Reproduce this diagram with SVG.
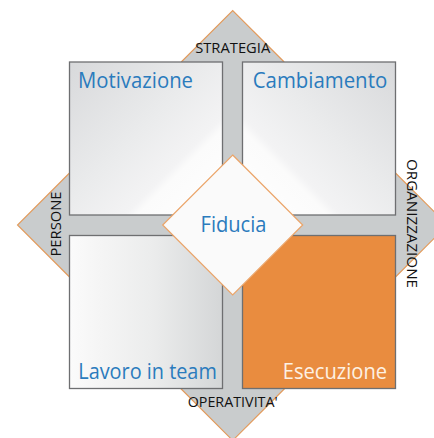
<svg xmlns="http://www.w3.org/2000/svg" width="434" height="438" viewBox="0 0 434 438">
  <style>
    .box { stroke: #6E6F71; stroke-width: 1.3; }
    .edge { fill: none; stroke: #E39A5A; stroke-width: 1.1; stroke-linejoin: miter; }
    .big { font-family: "Open Sans", "Liberation Sans", sans-serif; font-size: 21.5px; fill: #2A7BBD; }
    .axis { font-family: "Open Sans", "Liberation Sans", sans-serif; font-size: 14.5px; fill: #111111; }
  </style>
  <defs>
    <linearGradient id="gTL" x1="0" y1="0" x2="1" y2="1">
      <stop offset="0" stop-color="#D8D9DB"/>
      <stop offset="0.45" stop-color="#EAEBEC"/>
      <stop offset="0.68" stop-color="#F3F3F4"/>
      <stop offset="0.72" stop-color="#FBFBFB"/>
      <stop offset="1" stop-color="#FFFFFF"/>
    </linearGradient>
    <linearGradient id="gTR" x1="1" y1="0" x2="0" y2="1">
      <stop offset="0" stop-color="#D8D9DB"/>
      <stop offset="0.45" stop-color="#EAEBEC"/>
      <stop offset="0.68" stop-color="#F3F3F4"/>
      <stop offset="0.72" stop-color="#FBFBFB"/>
      <stop offset="1" stop-color="#FFFFFF"/>
    </linearGradient>
    <linearGradient id="gBL" x1="0" y1="0" x2="1" y2="0">
      <stop offset="0" stop-color="#FBFBFB"/>
      <stop offset="0.2" stop-color="#F5F5F5"/>
      <stop offset="0.55" stop-color="#EBECEC"/>
      <stop offset="1" stop-color="#D4D6D7"/>
    </linearGradient>
  </defs>

  <g id="frame">
    <polygon fill="#C9CCCD" points="232.7,10.5 284.2,62 395.5,62 395.5,173 447.5,225 395.5,277 395.5,388.5 284.7,388.5 232.7,440.5 180.7,388.5 69.5,388.5 69.5,277 17.5,225 69.5,173 69.5,62 181.2,62"/>
    <polyline class="edge" points="181.2,62 232.7,10.5 284.2,62"/>
    <polyline class="edge" points="395.5,173 447.5,225 395.5,277"/>
    <polyline class="edge" points="284.7,388.5 232.7,440.5 180.7,388.5"/>
    <polyline class="edge" points="69.5,173 17.5,225 69.5,277"/>
  </g>

  <g id="axis-strategia">
    <text class="axis" x="232.7" y="52.7" text-anchor="middle" textLength="75" lengthAdjust="spacingAndGlyphs">STRATEGIA</text>
  </g>
  <g id="axis-operativita">
    <text class="axis" x="232.7" y="406.5" text-anchor="middle" textLength="90" lengthAdjust="spacingAndGlyphs">OPERATIVITA'</text>
  </g>
  <g id="axis-persone">
    <text class="axis" transform="translate(61,224) rotate(-90)" x="0" y="0" text-anchor="middle" textLength="65" lengthAdjust="spacingAndGlyphs">PERSONE</text>
  </g>
  <g id="axis-organizzazione">
    <text class="axis" transform="translate(406.5,223.5) rotate(90)" x="0" y="0" text-anchor="middle" textLength="129" lengthAdjust="spacingAndGlyphs">ORGANIZZAZIONE</text>
  </g>

  <g id="motivazione">
    <rect class="box" x="69.5" y="62" width="153" height="153" fill="url(#gTL)"/>
    <text class="big" x="78" y="87.5" textLength="115" lengthAdjust="spacingAndGlyphs">Motivazione</text>
  </g>
  <g id="cambiamento">
    <rect class="box" x="242.5" y="62" width="153" height="153" fill="url(#gTR)"/>
    <text class="big" x="252.7" y="87.5" textLength="134.5" lengthAdjust="spacingAndGlyphs">Cambiamento</text>
  </g>
  <g id="lavoro-in-team">
    <rect class="box" x="69.5" y="235.5" width="153" height="153" fill="url(#gBL)"/>
    <text class="big" x="78.3" y="378.5" textLength="138.5" lengthAdjust="spacingAndGlyphs">Lavoro in team</text>
  </g>
  <g id="esecuzione">
    <rect class="box" x="242.5" y="235.5" width="153" height="153" fill="#E98C3F" stroke="#7A6A5E"/>
    <text class="big" x="282.7" y="378.5" textLength="104.5" lengthAdjust="spacingAndGlyphs" style="fill:#FDF1E4">Esecuzione</text>
  </g>

  <g id="fiducia">
    <polygon points="232.7,155 302.7,225 232.7,295 162.7,225" fill="#FAFAFA" stroke="#EBA468" stroke-width="1.2"/>
    <text class="big" x="233.5" y="231.7" text-anchor="middle" textLength="66" lengthAdjust="spacingAndGlyphs">Fiducia</text>
  </g>
</svg>
